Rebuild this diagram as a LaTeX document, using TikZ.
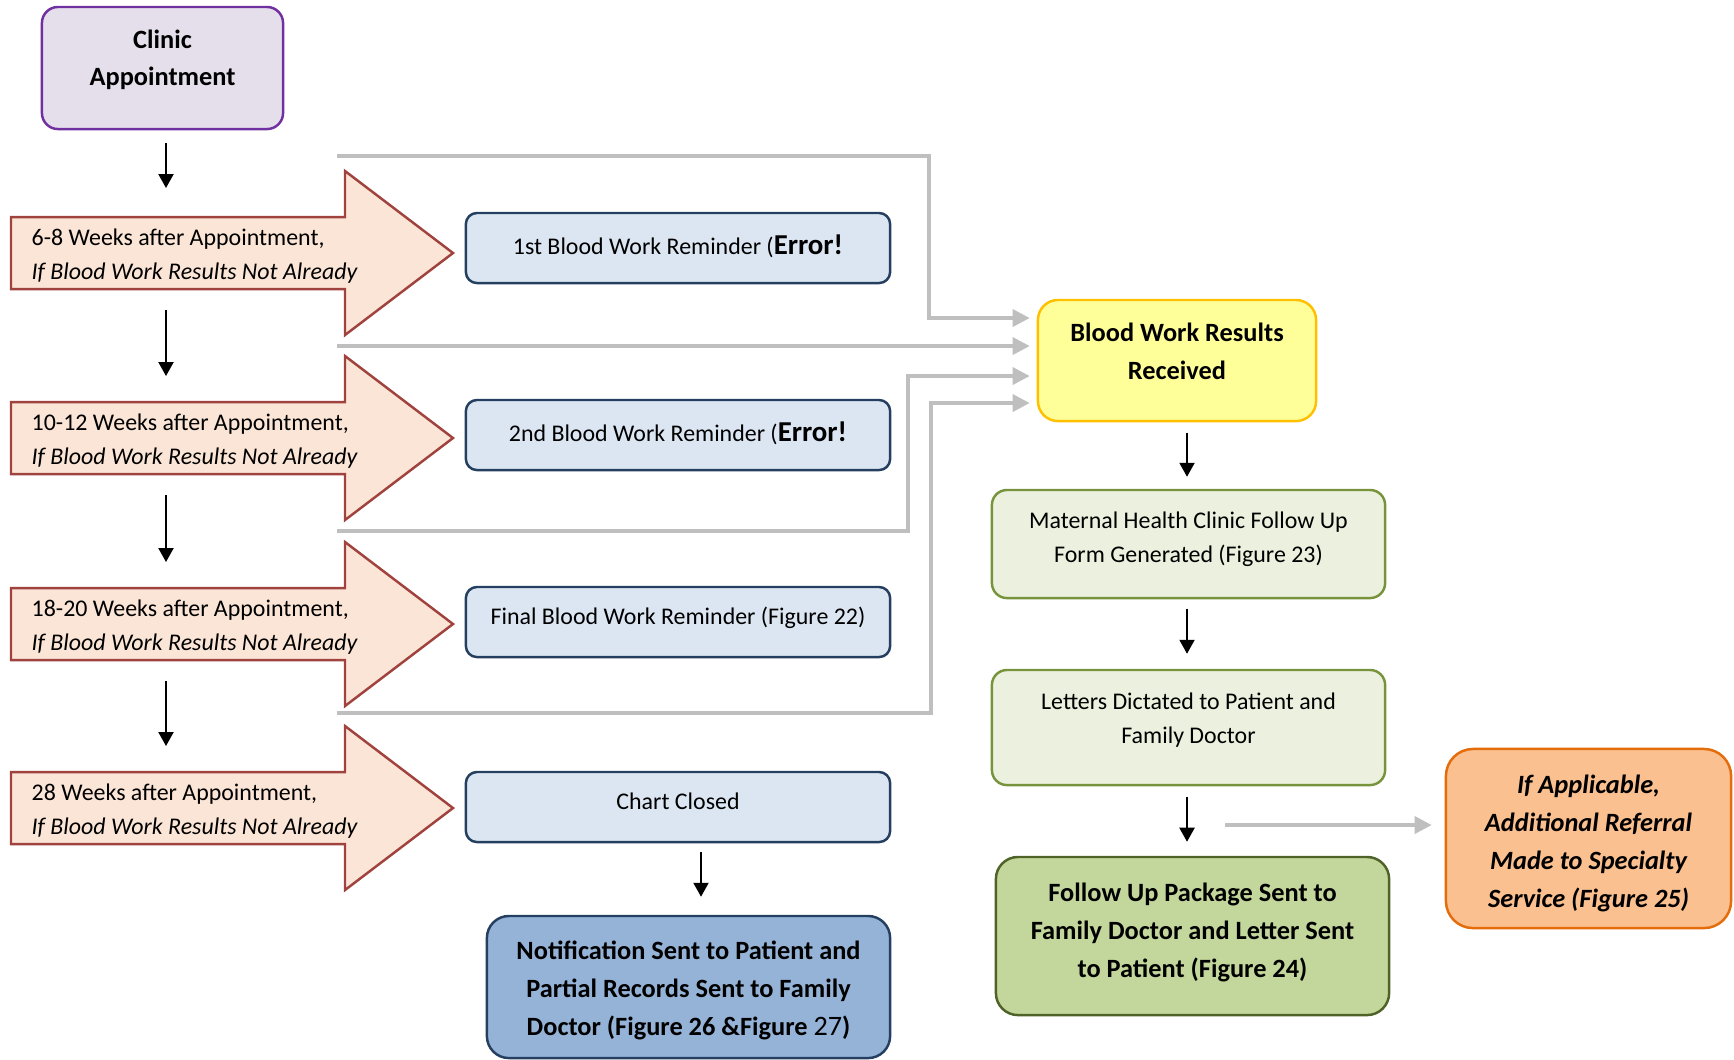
\documentclass[tikz,border=0pt]{standalone}
\usepackage{fontspec}
\setmainfont{Carlito}
\usetikzlibrary{arrows.meta,calc}

\definecolor{clinicfill}{HTML}{E5DFEC}
\definecolor{clinicline}{HTML}{7030A0}
\definecolor{chevfill}{HTML}{FBE5D6}
\definecolor{chevline}{HTML}{A0433E}
\definecolor{remfill}{HTML}{DCE6F2}
\definecolor{remline}{HTML}{243F60}
\definecolor{notiffill}{HTML}{95B3D7}
\definecolor{resfill}{HTML}{FFFF99}
\definecolor{resline}{HTML}{FFC000}
\definecolor{formfill}{HTML}{EBF1DE}
\definecolor{formline}{HTML}{77933C}
\definecolor{pkgfill}{HTML}{C3D69B}
\definecolor{pkgline}{HTML}{4F6228}
\definecolor{reffill}{HTML}{FAC090}
\definecolor{refline}{HTML}{E46C0A}
\definecolor{linkgrey}{HTML}{BFBFBF}

\newcommand{\smalltxt}{\fontsize{6.8}{9.7}\selectfont}
\newcommand{\boldtxt}{\fontsize{7.5}{10.8}\selectfont\bfseries}
\newcommand{\errtxt}{{\fontsize{8.2}{9.7}\selectfont\bfseries Error!}}

\begin{document}
\begin{tikzpicture}[x=0.01cm,y=-0.01cm,
    box/.style={draw,rounded corners=0.11cm,line width=0.7pt,inner sep=0pt},
    txt/.style={align=center,inner sep=0pt,font=\smalltxt},
    remind/.style={box,fill=remfill,draw=remline,minimum width=4.24cm,minimum height=0.7cm},
    form/.style={box,fill=formfill,draw=formline,rounded corners=0.15cm,minimum width=3.93cm},
    chev/.style={draw=chevline,fill=chevfill,line width=0.7pt,line join=miter},
    blk/.style={line width=0.6pt,-{Triangle[length=0.14cm,width=0.15cm]}},
    gry/.style={draw=linkgrey,line width=1pt,-{Triangle[length=0.17cm,width=0.17cm]}}]
    \useasboundingbox (0,0) rectangle (1734,1059);

    % left column
    \node (clinic) at (162.5,68) [box,fill=clinicfill,draw=clinicline,rounded corners=0.16cm,
        minimum width=2.41cm,minimum height=1.22cm] {};
    \node (clinic-t) at ($(clinic)+(0,-8)$) [txt,font=\fontsize{7.5}{10.4}\selectfont\bfseries]
        {Clinic\\Appointment};

    \foreach \i/\y/\wk in {1/253/6-8,2/438/10-12,3/624/18-20,4/808/28} {
        \draw[chev] (11,\y-36) -- (345,\y-36) -- (345,\y-82) -- (453,\y)
            -- (345,\y+82) -- (345,\y+36) -- (11,\y+36) -- cycle;
        \node (wk\i) at (31,\y+3) [anchor=west,inner sep=0pt,align=left,font=\smalltxt]
            {\wk{} Weeks after Appointment,\\\textit{If Blood Work Results Not Already}};
        \coordinate (top\i) at (166,\y-36);
        \coordinate (bot\i) at (166,\y+36);
    }

    \draw[blk] ($(clinic.south)+(3.5,13)$) -- ($(top1)+(0,-29)$);
    \foreach \i/\j in {1/2,2/3,3/4}
        \draw[blk] ($(bot\i)+(0,21)$) -- ($(top\j)+(0,-26)$);

    % reminders
    \node (rem1) at (678,248) [remind] {};
    \node (rem1-t) at ($(rem1)+(0,-2)$) [txt] {1st Blood Work Reminder (\errtxt};
    \node (rem2) at (678,435) [remind] {};
    \node (rem2-t) at ($(rem2)+(0,-2)$) [txt] {2nd Blood Work Reminder (\errtxt};
    \node (rem3) at (678,622) [remind] {};
    \node (rem3-t) at ($(rem3)+(0,-4)$) [txt] {Final Blood Work Reminder (Figure 22)};
    \node (closed) at (678,807) [remind] {};
    \node (closed-t) at ($(closed)+(0,-5.5)$) [txt] {Chart Closed};
    \node (notif) at (688.5,987) [box,fill=notiffill,draw=remline,rounded corners=0.22cm,
        minimum width=4.03cm,minimum height=1.42cm] {};
    \node (notif-t) at ($(notif)+(0,3)$) [txt,font=\boldtxt]
        {Notification Sent to Patient and\\Partial Records Sent to Family\\Doctor (Figure 26 \&Figure {\mdseries\fontsize{8}{10.8}\selectfont 27})};
    \draw[blk] ($(notif.north)+(12.5,-63)$) -- ($(notif.north)+(12.5,-18)$);

    % right column
    \node (bwrr) at (1177,360.5) [box,fill=resfill,draw=resline,rounded corners=0.2cm,
        minimum width=2.78cm,minimum height=1.21cm] {};
    \node (bwrr-t) at ($(bwrr)+(0,-9)$) [txt,font=\boldtxt] {Blood Work Results\\Received};
    \node (mat) at (1188.5,544) [form,minimum height=1.08cm] {};
    \node (mat-t) at ($(mat)+(0,-5)$) [txt]
        {Maternal Health Clinic Follow Up\\Form Generated (Figure 23)};
    \node (letters) at (1188.5,727.5) [form,minimum height=1.15cm] {};
    \node (letters-t) at ($(letters)+(0,-7)$) [txt] {Letters Dictated to Patient and\\Family Doctor};
    \node (pkg) at (1192.5,936) [box,fill=pkgfill,draw=pkgline,rounded corners=0.22cm,
        minimum width=3.93cm,minimum height=1.58cm] {};
    \node (pkg-t) at ($(pkg)+(0,-4)$) [txt,font=\boldtxt]
        {Follow Up Package Sent to\\Family Doctor and Letter Sent\\to Patient (Figure 24)};
    \node (referral) at (1588.5,838.5) [box,fill=reffill,draw=refline,rounded corners=0.27cm,
        minimum width=2.85cm,minimum height=1.79cm] {};
    \node (referral-t) at ($(referral)+(0,5)$) [txt,font=\boldtxt\itshape]
        {If Applicable,\\Additional Referral\\Made to Specialty\\Service (Figure 25)};

    \draw[blk] ($(mat.north)+(-1.5,-56)$) -- ($(mat.north)+(-1.5,-12)$);
    \draw[blk] ($(letters.north)+(-1.5,-60)$) -- ($(letters.north)+(-1.5,-15)$);
    \draw[blk] ($(pkg.north)+(-5.5,-59)$) -- ($(pkg.north)+(-5.5,-14)$);

    % grey links into results
    \coordinate (g1) at (337,156);
    \coordinate (g2) at (337,346);
    \coordinate (g3) at (337,531);
    \coordinate (g4) at (337,713);
    \coordinate (g5) at (1225,825);
    \draw[gry] (g1) -- ++(592,0) |- ($(bwrr.west)+(-7,-42.5)$);
    \draw[gry] (g2) -- ($(bwrr.west)+(-7,-14.5)$);
    \draw[gry] (g3) -- ++(571,0) |- ($(bwrr.west)+(-7,15.5)$);
    \draw[gry] (g4) -- ++(594,0) |- ($(bwrr.west)+(-7,42.5)$);
    \draw[gry] (g5) -- ($(referral.west)+(-13,-13.5)$);
\end{tikzpicture}
\end{document}
